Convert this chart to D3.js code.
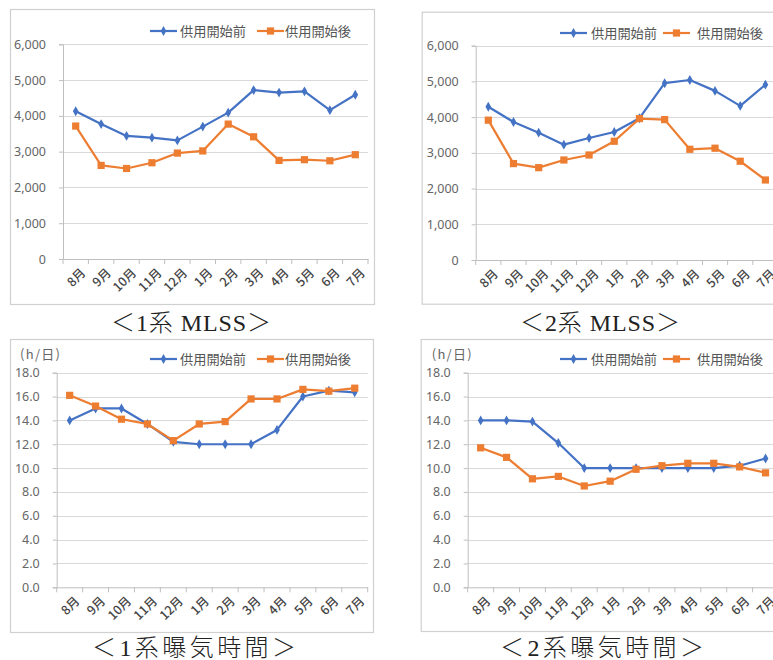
<!DOCTYPE html>
<html>
<head>
<meta charset="utf-8">
<script src="https://cdn.jsdelivr.net/npm/d3@7"></script>
<style>
html,body{margin:0;padding:0;background:#fff;}
svg{display:block;}
</style>
</head>
<body>
<svg id="chart" width="773" height="660"></svg>
<script>
// ---- data ----
const months = ["8月","9月","10月","11月","12月","1月","2月","3月","4月","5月","6月","7月"];
const seriesNames = ["供用開始前","供用開始後"];
const mlss1Before = [4130,3770,3440,3390,3315,3700,4090,4720,4650,4685,4160,4590];
const mlss1After  = [3715,2615,2530,2690,2960,3020,3770,3415,2755,2775,2745,2915];
const mlss2Before = [4290,3865,3565,3230,3415,3585,3970,4950,5040,4735,4315,4910];
const mlss2After  = [3915,2700,2585,2800,2940,3325,3960,3930,3100,3130,2765,2240];
const aer1Before  = [14.0,15.0,15.0,13.7,12.2,12.0,12.0,12.0,13.2,16.0,16.5,16.35];
const aer1After   = [16.1,15.2,14.1,13.7,12.3,13.7,13.9,15.8,15.8,16.6,16.45,16.7];
const aer2Before  = [14.0,14.0,13.9,12.1,10.0,10.0,10.0,10.0,10.0,10.0,10.2,10.8];
const aer2After   = [11.7,10.9,9.1,9.3,8.5,8.9,9.9,10.2,10.4,10.4,10.1,9.6];
const mlssTicks = [0,1000,2000,3000,4000,5000,6000];
const aerTicks  = [0,2,4,6,8,10,12,14,16,18];
const unitLabel = "(h/日)";
const captions = ["＜1系 MLSS＞","＜2系 MLSS＞","＜1系曝気時間＞","＜2系曝気時間＞"];

// ---- layout ----
const BLUE = "#4472C4", ORANGE = "#ED7D31";
const panels = [
  {frame:[10,9,364,295], plot:[63,368,44.3,259], before:mlss1Before, after:mlss1After, ticks:mlssTicks, fmt:d3.format(","), unit:false,
   legend:{y:31, l1:150, t1:180, l2:257, t2:285}, cap:{x:191, y:331, w:160, text:captions[0]}},
  {frame:[421.7,11.7,360,292], plot:[475.7,778,45.7,260], before:mlss2Before, after:mlss2After, ticks:mlssTicks, fmt:d3.format(","), unit:false,
   legend:{y:33, l1:560, t1:591, l2:663, t2:697}, cap:{x:600, y:331, w:160, text:captions[1]}},
  {frame:[10,339,363,293], plot:[56.7,367.7,372.7,587.3], before:aer1Before, after:aer1After, ticks:aerTicks, fmt:d3.format(".1f"), unit:{x:20,y:359},
   legend:{y:359, l1:150, t1:180, l2:257, t2:285}, cap:{x:194, y:656, w:204, text:captions[2]}},
  {frame:[420.7,339,360,292], plot:[467.7,778.5,372.7,587.3], before:aer2Before, after:aer2After, ticks:aerTicks, fmt:d3.format(".1f"), unit:{x:431.7,y:359},
   legend:{y:359, l1:560, t1:591, l2:663, t2:697}, cap:{x:602, y:656, w:204, text:captions[3]}}
];

const svg = d3.select("#chart");
const labelFont = "'Noto Sans CJK JP','Noto Sans',sans-serif";
const diamond = d3.symbol().type(d3.symbolDiamond).size(28);
const square = d3.symbol().type(d3.symbolSquare).size(52);

panels.forEach(p => {
  const g = svg.append("g");
  const [fx,fy,fw,fh] = p.frame;
  g.append("rect").attr("x",fx+0.5).attr("y",fy+0.5).attr("width",fw).attr("height",fh)
    .attr("fill","#fff").attr("stroke","#d0d0d0").attr("stroke-width",1.2);

  const [x0,x1,yT,yB] = p.plot;
  const x = d3.scaleBand().domain(months).range([x0,x1]);
  const y = d3.scaleLinear().domain([p.ticks[0], p.ticks[p.ticks.length-1]]).range([yB,yT]);

  // gridlines
  g.append("g").selectAll("line").data(p.ticks.filter(t=>t>0)).join("line")
    .attr("x1",x0).attr("x2",x1).attr("y1",d=>Math.round(y(d))+0.5).attr("y2",d=>Math.round(y(d))+0.5)
    .attr("stroke","#d9d9d9").attr("stroke-width",1);

  // y axis
  const ya = g.append("g").attr("transform",`translate(${x0},0)`)
    .call(d3.axisLeft(y).tickValues(p.ticks).tickFormat(p.fmt).tickSize(4).tickPadding(13));
  ya.select(".domain").attr("stroke","#bfbfbf");
  ya.selectAll(".tick line").attr("stroke","#bfbfbf");
  ya.selectAll("text").attr("fill","#666").style("font-family","'Noto Sans',sans-serif").style("font-size","12.5px");

  // x axis
  const xa = g.append("g").attr("transform",`translate(0,${yB})`)
    .call(d3.axisBottom(x).tickSize(0).tickSizeOuter(0));
  xa.select(".domain").attr("stroke","#bfbfbf");
  xa.selectAll(".tick text").remove();
  const bounds = months.map(m=>x(m)).concat([x1]);
  xa.selectAll(".bt").data(bounds).join("line").attr("class","bt")
    .attr("x1",d=>d).attr("x2",d=>d).attr("y1",0).attr("y2",5).attr("stroke","#bfbfbf");
  xa.selectAll(".ml").data(months).join("text").attr("class","ml")
    .attr("transform",d=>`translate(${x(d)+x.bandwidth()/2+4},${8}) rotate(-45)`)
    .attr("text-anchor","end").attr("dy","0.75em")
    .attr("fill","#444").style("font-family",labelFont).style("font-size","12.5px").style("font-weight","500")
    .text(d=>d);

  // lines
  const line = d3.line().x((d,i)=>x(months[i])+x.bandwidth()/2).y(d=>y(d));
  const drawSeries = (vals,color,sym) => {
    g.append("path").datum(vals).attr("d",line).attr("fill","none")
      .attr("stroke",color).attr("stroke-width",2.2).attr("stroke-linejoin","round");
    g.append("g").selectAll("path").data(vals).join("path")
      .attr("d",sym)
      .attr("transform",(d,i)=>`translate(${x(months[i])+x.bandwidth()/2},${y(d)})`)
      .attr("fill",color);
  };
  drawSeries(p.before,BLUE,diamond);
  drawSeries(p.after,ORANGE,square);

  // legend
  const L = p.legend;
  const lg = g.append("g");
  [[L.l1,L.t1,BLUE,diamond,seriesNames[0]],[L.l2,L.t2,ORANGE,square,seriesNames[1]]].forEach(([lx,tx,c,s,name])=>{
    lg.append("line").attr("x1",lx).attr("x2",lx+27).attr("y1",L.y).attr("y2",L.y).attr("stroke",c).attr("stroke-width",2.2);
    lg.append("path").attr("d",s).attr("transform",`translate(${lx+13.5},${L.y})`).attr("fill",c);
    lg.append("text").attr("x",tx).attr("y",L.y).attr("dy","0.36em").attr("fill","#555")
      .style("font-family",labelFont).style("font-size","13px").attr("textLength",66).attr("lengthAdjust","spacingAndGlyphs").text(name);
  });

  if (p.unit) {
    g.append("text").attr("x",p.unit.x).attr("y",p.unit.y).attr("fill","#666")
      .style("font-family",labelFont).style("font-size","13px").attr("textLength",40).text(unitLabel);
  }

  // caption
  svg.append("text").attr("x",p.cap.x - p.cap.w/2).attr("y",p.cap.y)
    .attr("fill","#222").style("font-family","'Liberation Serif','Noto Sans CJK JP',serif").style("font-size","24px")
    .style("font-weight","300")
    .attr("textLength",p.cap.w).attr("lengthAdjust","spacing").text(p.cap.text);
});
</script>
</body>
</html>
